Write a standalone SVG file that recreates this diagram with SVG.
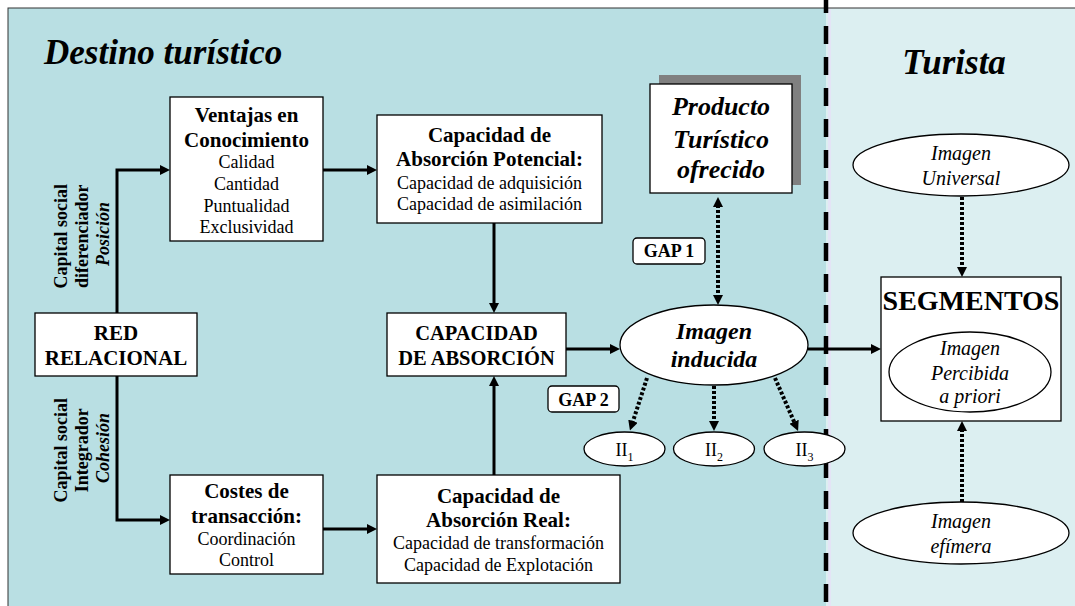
<svg xmlns="http://www.w3.org/2000/svg" width="1075" height="606" viewBox="0 0 1075 606">
<style>
text{font-family:'Liberation Serif',Tinos,'Times New Roman','DejaVu Serif',serif;fill:#000}
.box{fill:#fff;stroke:#000;stroke-width:1.3}
.b{font-weight:bold}
.bi{font-weight:bold;font-style:italic}
.i{font-style:italic}
.c{text-anchor:middle}
.f21{font-size:21px}
.f18{font-size:18px}
.f20{font-size:20px}
.sol{fill:none;stroke:#000;stroke-width:3;marker-end:url(#ah)}
.dot{fill:none;stroke:#000;stroke-width:4;stroke-dasharray:3 2;marker-end:url(#ah)}
</style>
<defs>
<marker id="ah" viewBox="0 0 10 10" refX="2" refY="5" markerWidth="10" markerHeight="10" markerUnits="userSpaceOnUse" orient="auto-start-reverse">
<path d="M0,0 L10,5 L0,10 z" fill="#000"/>
</marker>
</defs>

<g id="background">
<rect x="8" y="8" width="818" height="610" fill="#B9DFE3"/>
<rect x="826" y="8" width="260" height="610" fill="#DCEFF1"/>
<rect x="828" y="8" width="3" height="610" fill="#E4E4F6"/>
<rect x="8" y="8" width="1080" height="610" fill="none" stroke="#333" stroke-width="1"/>
<line x1="826" y1="-5" x2="826" y2="606" stroke="#000" stroke-width="4.5" stroke-dasharray="18 13"/>
</g>

<g id="titles">
<text x="44" y="64" class="bi" font-size="35">Destino turístico</text>
<text x="954" y="74" class="bi c" font-size="35">Turista</text>
</g>

<g id="labels-rotated">
<text transform="translate(67,234) rotate(-90)" class="c f18">
<tspan x="0" y="0" class="b">Capital social</tspan>
<tspan x="0" y="21" class="b">diferenciador</tspan>
<tspan x="0" y="42" class="bi">Posición</tspan>
</text>
<text transform="translate(67,448) rotate(-90)" class="c f18">
<tspan x="0" y="0" class="b">Capital social</tspan>
<tspan x="0" y="21" class="b">Integrador</tspan>
<tspan x="0" y="42" class="bi">Cohesión</tspan>
</text>
</g>

<g id="connectors">
<path class="sol" d="M117,313 V170 H162"/>
<path class="sol" d="M117,376 V520 H162"/>
<path class="sol" d="M323,170 H369"/>
<path class="sol" d="M323,529 H369"/>
<path class="sol" d="M494,223 V305"/>
<path class="sol" d="M494,475 V384"/>
<path class="sol" d="M566,349 H612"/>
<path class="sol" d="M808,349 H873"/>
<path class="dot" d="M718,205 V297" marker-start="url(#ah)"/>
<path class="dot" d="M647,378 L632.4,423"/>
<path class="dot" d="M714,386 V423"/>
<path class="dot" d="M775,378 L794.9,423.6"/>
<path class="dot" d="M962,197 V269"/>
<path class="dot" d="M962,502 V429"/>
</g>

<g id="red-relacional">
<rect class="box" x="35" y="313" width="162" height="63"/>
<text class="b c f21" x="116" y="340">RED</text>
<text class="b c f21" x="116" y="365">RELACIONAL</text>
</g>

<g id="ventajas">
<rect class="box" x="170" y="97" width="153" height="144"/>
<text class="b c f21" x="246.5" y="122">Ventajas en</text>
<text class="b c f21" x="246.5" y="147">Conocimiento</text>
<text class="c f18" x="246.5" y="168">Calidad</text>
<text class="c f18" x="246.5" y="190">Cantidad</text>
<text class="c f18" x="246.5" y="212">Puntualidad</text>
<text class="c f18" x="246.5" y="233">Exclusividad</text>
</g>

<g id="costes">
<rect class="box" x="170" y="475" width="153" height="99"/>
<text class="b c f21" x="246.5" y="498">Costes de</text>
<text class="b c f21" x="246.5" y="523">transacción:</text>
<text class="c f18" x="246.5" y="545">Coordinación</text>
<text class="c f18" x="246.5" y="566">Control</text>
</g>

<g id="absorcion-potencial">
<rect class="box" x="377" y="115" width="225" height="108"/>
<text class="b c f21" x="489.5" y="142">Capacidad de</text>
<text class="b c f21" x="489.5" y="166">Absorción Potencial:</text>
<text class="c f18" x="489.5" y="189">Capacidad de adquisición</text>
<text class="c f18" x="489.5" y="210">Capacidad de asimilación</text>
</g>

<g id="absorcion-real">
<rect class="box" x="377" y="475" width="243" height="108"/>
<text class="b c f21" x="498.5" y="503">Capacidad de</text>
<text class="b c f21" x="498.5" y="527">Absorción Real:</text>
<text class="c f18" x="498.5" y="549">Capacidad de transformación</text>
<text class="c f18" x="498.5" y="571">Capacidad de Explotación</text>
</g>

<g id="capacidad-absorcion">
<rect class="box" x="387" y="313" width="179" height="63"/>
<text class="b c" font-size="20.5" x="476.5" y="340">CAPACIDAD</text>
<text class="b c" font-size="20.5" x="476.5" y="365">DE ABSORCIÓN</text>
</g>

<g id="producto">
<rect x="659" y="75" width="142" height="110" fill="#808080"/>
<rect class="box" x="650" y="84" width="142" height="109"/>
<text class="bi c" font-size="26" x="721" y="115">Producto</text>
<text class="bi c" font-size="26" x="721" y="148">Turístico</text>
<text class="bi c" font-size="26" x="721" y="178">ofrecido</text>
</g>

<g id="gap1">
<rect class="box" x="633" y="238" width="72" height="26" rx="4"/>
<text class="b c f18" x="669" y="257">GAP 1</text>
</g>

<g id="gap2">
<rect class="box" x="548" y="386" width="71" height="26" rx="4"/>
<text class="b c f18" x="583.5" y="406">GAP 2</text>
</g>

<g id="imagen-inducida">
<ellipse class="box" cx="714" cy="345" rx="94" ry="40"/>
<text class="bi c" font-size="24" x="714" y="339">Imagen</text>
<text class="bi c" font-size="24" x="714" y="367">inducida</text>
</g>

<g id="ii1">
<ellipse class="box" cx="624.5" cy="449" rx="40.5" ry="17"/>
<text class="c f18" x="624.5" y="456">II<tspan font-size="12" dy="5">1</tspan></text>
</g>
<g id="ii2">
<ellipse class="box" cx="714" cy="449" rx="40.5" ry="17"/>
<text class="c f18" x="714" y="456">II<tspan font-size="12" dy="5">2</tspan></text>
</g>
<g id="ii3">
<ellipse class="box" cx="804.5" cy="449" rx="40.5" ry="17"/>
<text class="c f18" x="804.5" y="456">II<tspan font-size="12" dy="5">3</tspan></text>
</g>

<g id="imagen-universal">
<ellipse class="box" cx="961" cy="165" rx="108" ry="31"/>
<text class="i c f20" x="961" y="160">Imagen</text>
<text class="i c f20" x="961" y="185">Universal</text>
</g>

<g id="segmentos">
<rect class="box" x="881" y="277" width="180" height="144"/>
<text class="b c" font-size="28" x="971" y="310">SEGMENTOS</text>
<ellipse class="box" cx="970" cy="372" rx="81" ry="40"/>
<text class="i c f20" x="970" y="355">Imagen</text>
<text class="i c f20" x="970" y="380">Percibida</text>
<text class="i c f20" x="970" y="403">a priori</text>
</g>

<g id="imagen-efimera">
<ellipse class="box" cx="961" cy="533" rx="108" ry="31"/>
<text class="i c f20" x="961" y="528">Imagen</text>
<text class="i c f20" x="961" y="553">efímera</text>
</g>
</svg>
